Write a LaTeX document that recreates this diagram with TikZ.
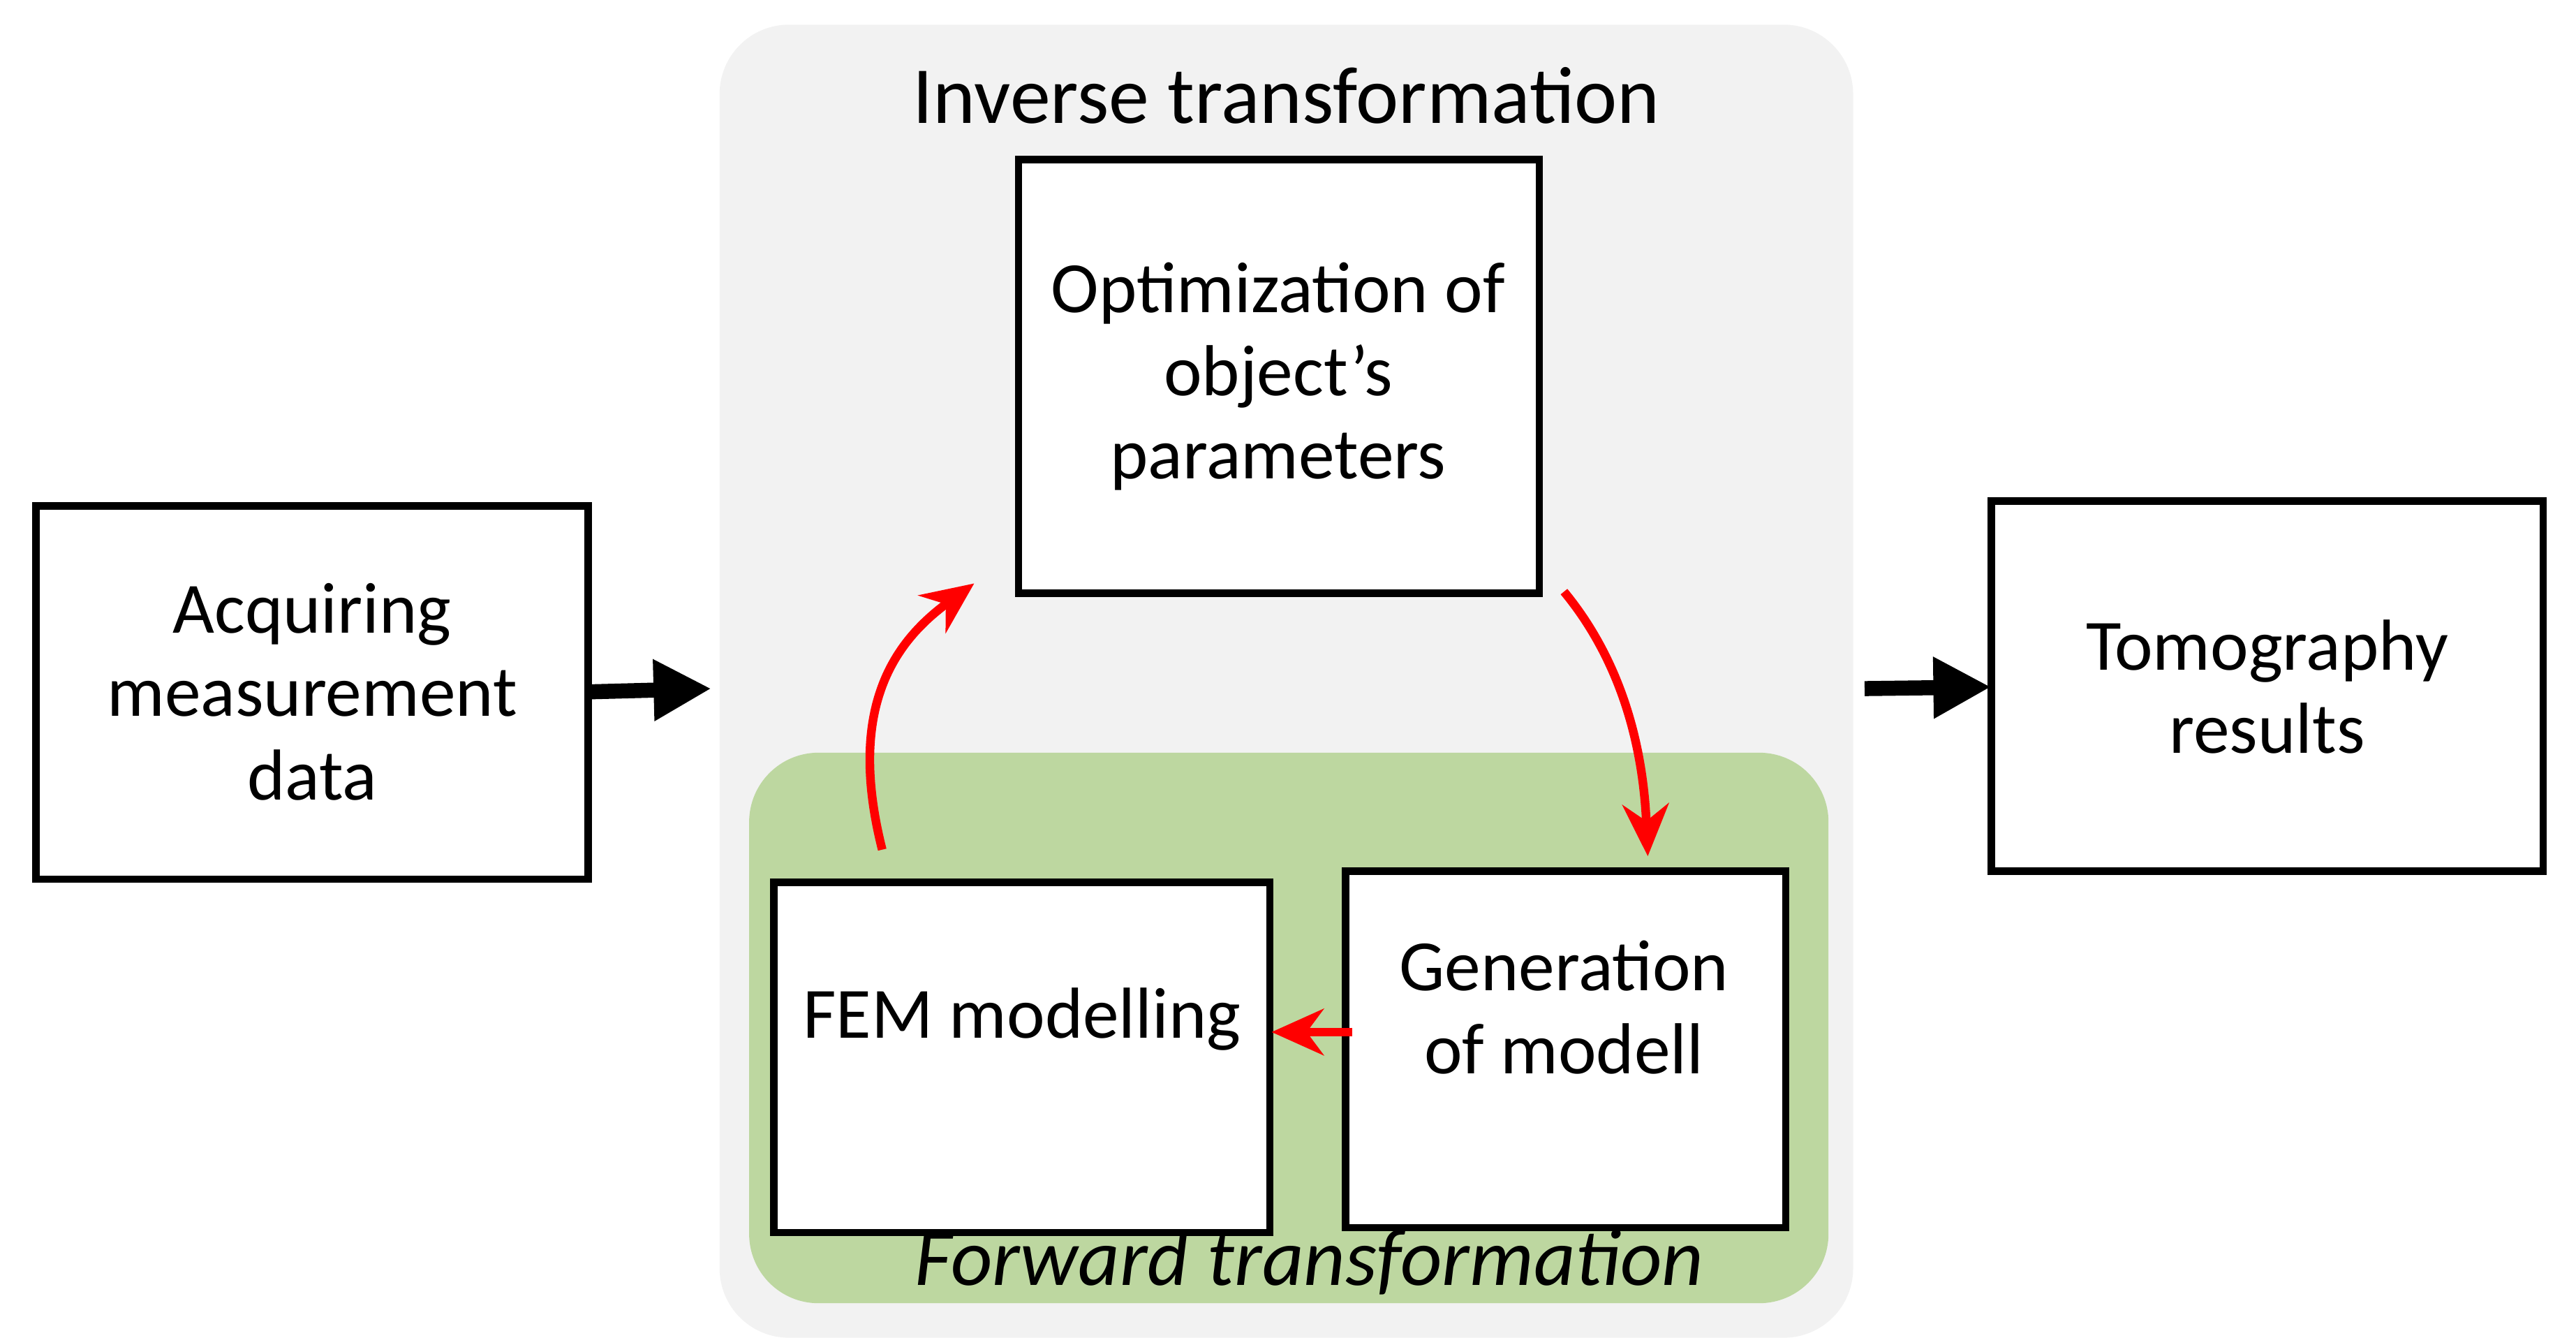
\documentclass[tikz,border=0pt]{standalone}
\usepackage{fontspec}
\setmainfont{Carlito}
\usetikzlibrary{arrows.meta}
\definecolor{bgray}{RGB}{242,242,242}
\definecolor{bgreen}{RGB}{189,215,160}
\begin{document}
\begin{tikzpicture}[x=0.01cm,y=-0.01cm,
  box/.style={draw,line width=1.3pt,fill=white,align=center,font=\fontsize{12.5}{14.4}\selectfont},
  red/.style={draw={rgb,255:red,255;green,0;blue,0},line width=1.5pt,-{Stealth[length=9pt,width=8pt]}},
  blk/.style={line width=2.6pt,-{Triangle[length=10pt,width=10pt]}}]
\useasboundingbox (0,0) rectangle (1568,814);
\fill[bgray,rounded corners=12] (438,15) rectangle (1128,814);
\fill[bgreen,rounded corners=12] (456,458) rectangle (1113,793);
\node[font=\fontsize{14}{16}\selectfont] (title) at (783,58) {Inverse transformation};
\node[font=\fontsize{14}{16}\selectfont\itshape] (fwd) at (797,768) {Forward transformation};
\draw[box] (620,97) rectangle (937,361);
\node[box,draw=none,fill=none] (opt) at (778,229) {Optimization of\\object’s\\parameters};
\draw[box] (22,308) rectangle (358,535);
\node[box,draw=none,fill=none] (acq) at (190,421) {Acquiring\\measurement\\data};
\draw[box] (1212,305) rectangle (1548,530);
\node[box,draw=none,fill=none] (tom) at (1380,418) {Tomography\\results};
\draw[box] (471,537) rectangle (773,750);
\node[box,draw=none,fill=none] (fem) at (622,620) {FEM modelling};
\draw[box] (819,530) rectangle (1087,747);
\node[box,draw=none,fill=none] (gen) at (952,613) {Generation\\of modell};
\coordinate (a1) at (358,421); \coordinate (a2) at (433,419);
\coordinate (b1) at (1135,419); \coordinate (b2) at (1212,418);
\draw[blk] (a1) -- (a2);
\draw[blk] (b1) -- (b2);
\coordinate (r1) at (537,517); \coordinate (r2) at (593,355);
\coordinate (r3) at (952,360); \coordinate (r4) at (1003,521);
\coordinate (r5) at (823,628); \coordinate (r6) at (774,628);
\draw[red] (r1) .. controls (515,430) and (545,390) .. (r2);
\draw[red] (r3) .. controls (985,400) and (1000,450) .. (r4);
\draw[red] (r5) -- (r6);
\end{tikzpicture}
\end{document}
